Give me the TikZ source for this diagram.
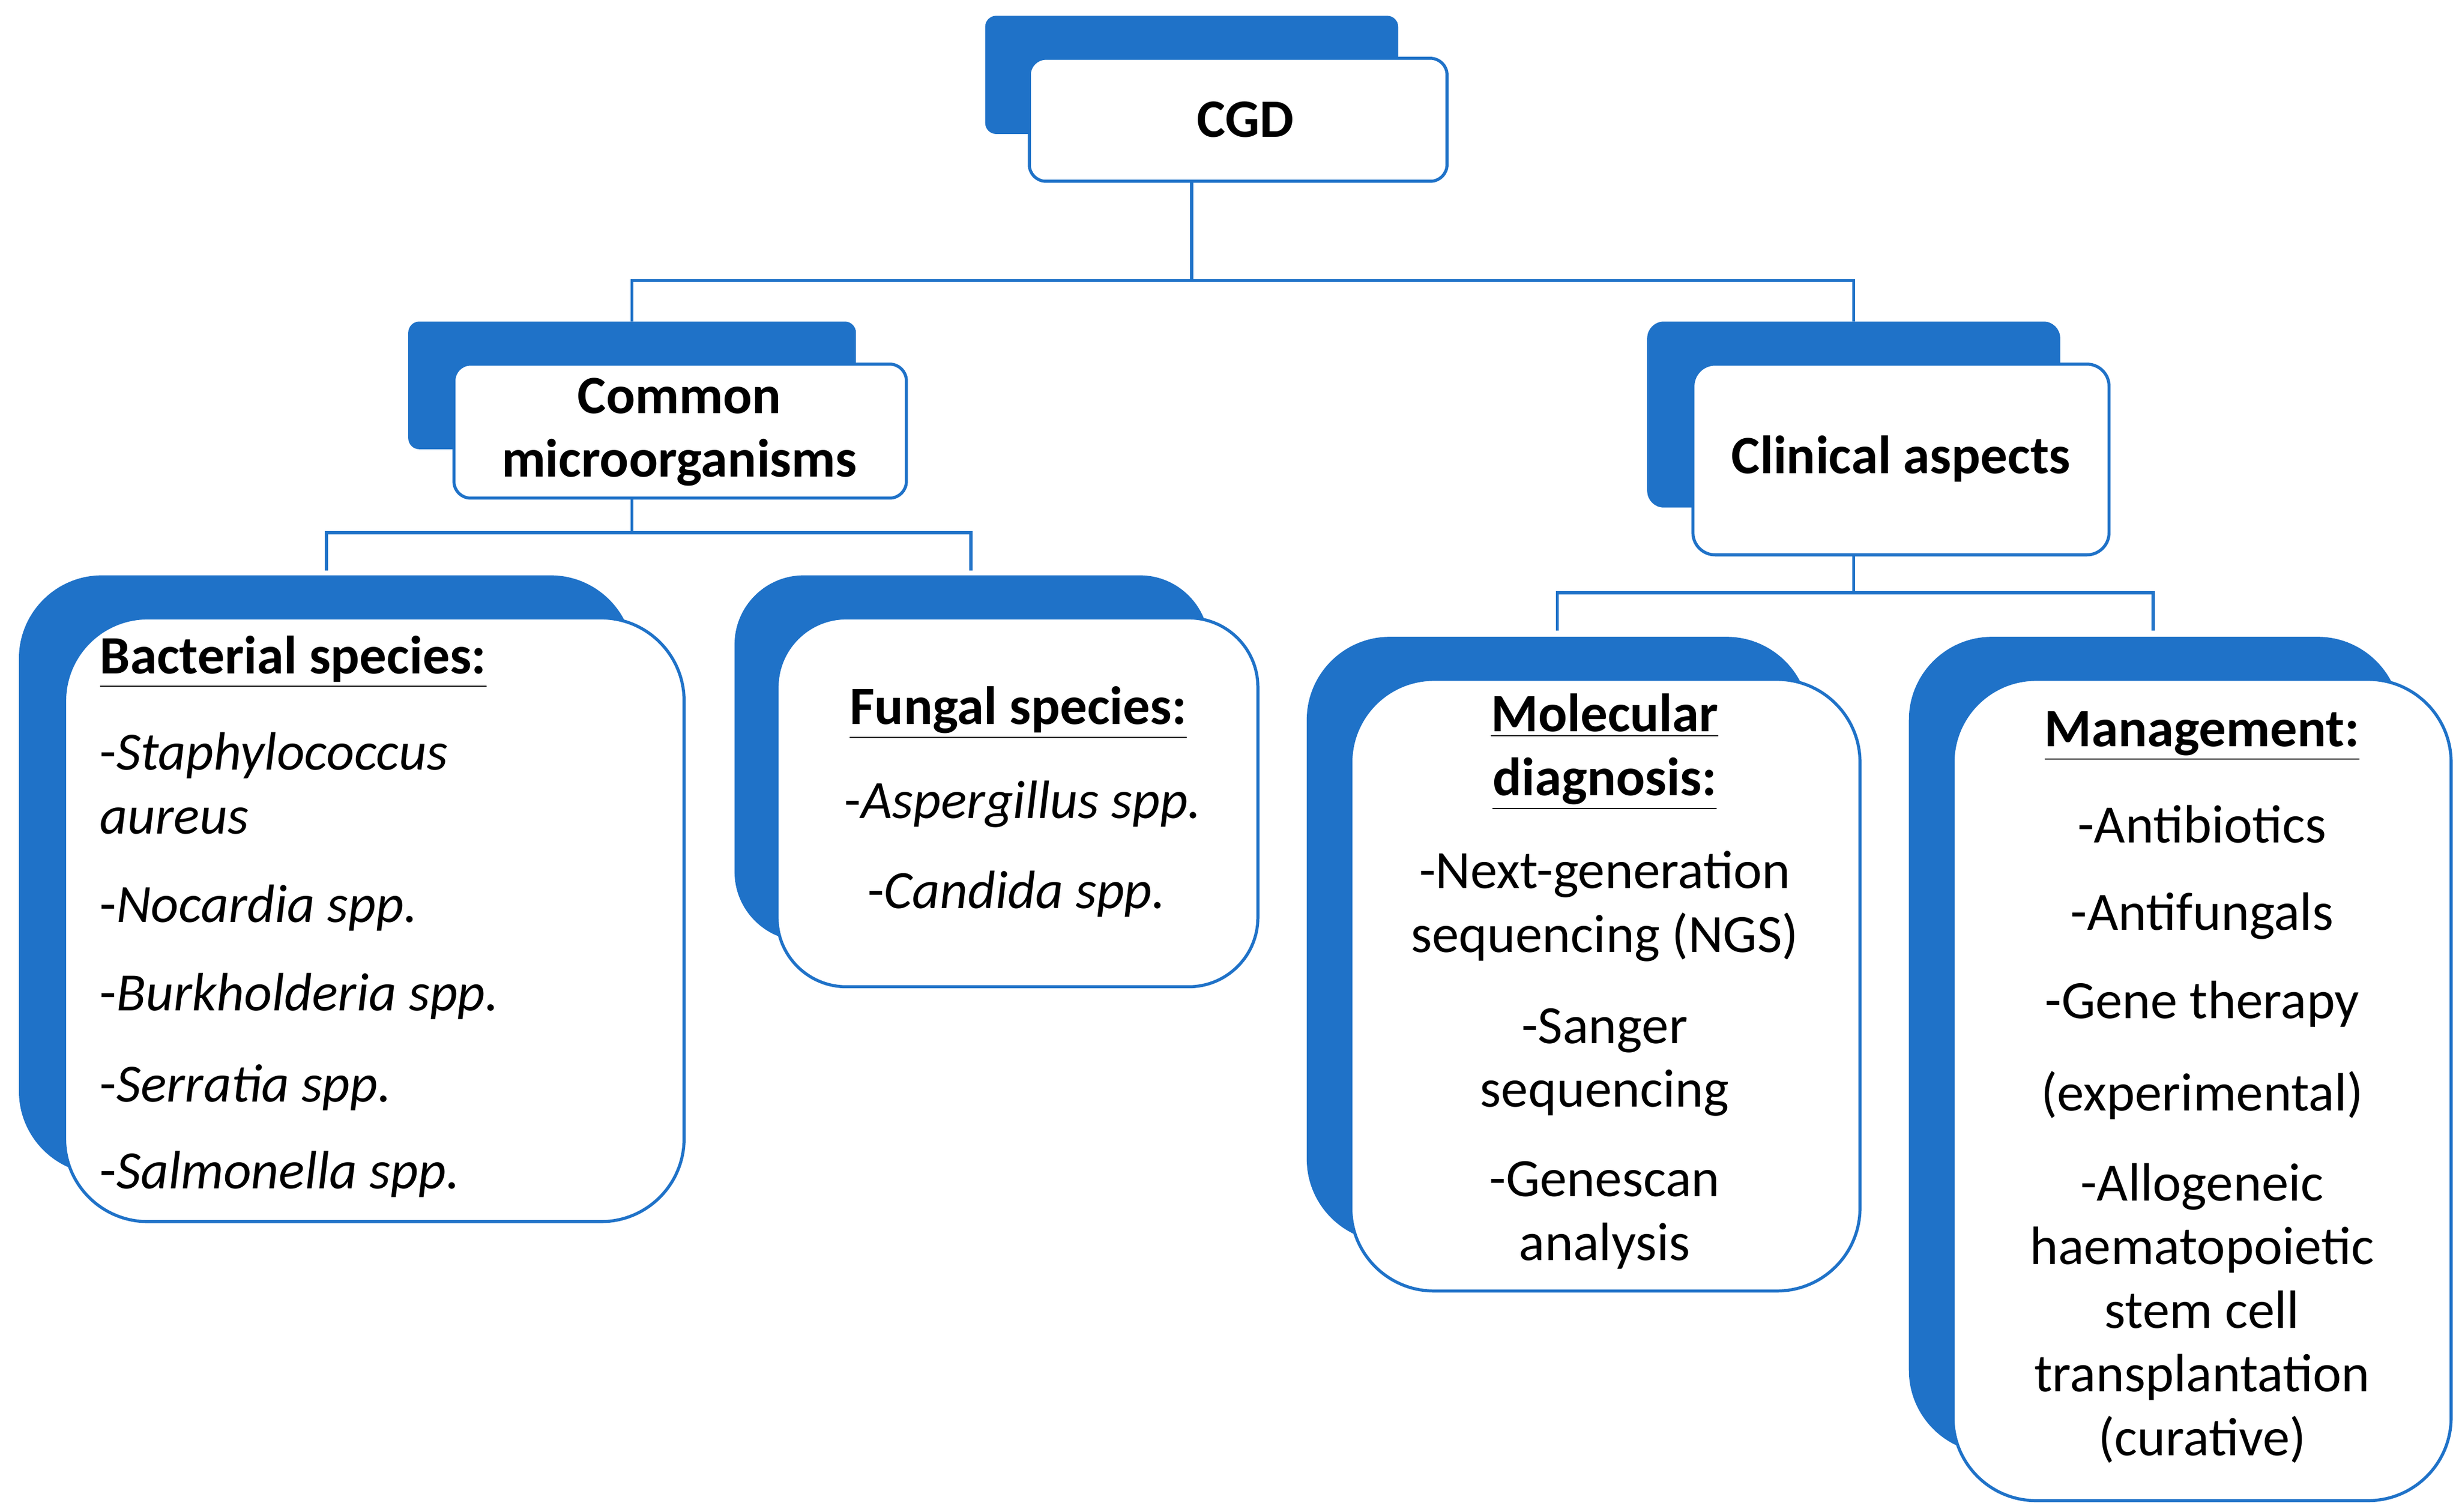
\documentclass[tikz,border=0pt]{standalone}
\usepackage{fontspec}
\setmainfont{Carlito}
\definecolor{myblue}{HTML}{1F72C8}
\begin{document}
\begin{tikzpicture}[x=0.02cm,y=-0.02cm,
  back/.style={fill=myblue},
  front/.style={fill=white,draw=myblue,line width=1.1pt},
  conn/.style={draw=myblue,line width=1.1pt},
  txt/.style={font=\fontsize{19.5}{23}\selectfont,inner sep=0pt},
  hd/.style={txt,font=\fontsize{19.5}{23}\selectfont\bfseries}]
\useasboundingbox (0,0) rectangle (1560,959);
% connectors
\draw[conn] (756,115) -- (756,178) coordinate (j1);
\draw[conn] (401,204) -- (401,178) -- (1176,178) -- (1176,204);
\draw[conn] (401,316) -- (401,338);
\draw[conn] (207,362) -- (207,338) -- (616,338) -- (616,362);
\draw[conn] (1176,352) -- (1176,376);
\draw[conn] (988,400) -- (988,376) -- (1366,376) -- (1366,400);
% CGD
\fill[back,rounded corners=4] (625,10) rectangle (887,85);
\draw[front,rounded corners=6] (653,37) rectangle (918,115);
\node[hd] (cgd) at (790,76) {CGD};
% Common microorganisms
\fill[back,rounded corners=4] (259,204) rectangle (543,285);
\draw[front,rounded corners=6] (288,231) rectangle (575,316);
\node[hd,align=center] (cm) at (431,274) {Common\\microorganisms};
% Clinical aspects
\fill[back,rounded corners=6] (1045,204) rectangle (1307,322);
\draw[front,rounded corners=8] (1074,231) rectangle (1338,352);
\node[hd] (ca) at (1206,291) {Clinical aspects};
% Bacterial
\fill[back,rounded corners=30] (12,365) rectangle (402,745);
\draw[front,rounded corners=30] (41,392) rectangle (434,775);
\node[hd,anchor=west] (b0) at (63,420) {\underline{Bacterial species:}};
\node[txt,anchor=west,align=left] (b1) at (63,497) {-\textit{Staphylococcus}\\\textit{aureus}};
\node[txt,anchor=west] (b2) at (63,576) {-\textit{Nocardia spp.}};
\node[txt,anchor=west] (b3) at (63,632) {-\textit{Burkholderia spp.}};
\node[txt,anchor=west] (b4) at (63,690) {-\textit{Serratia spp.}};
\node[txt,anchor=west] (b5) at (63,745) {-\textit{Salmonella spp.}};
% Fungal
\fill[back,rounded corners=25] (466,365) rectangle (767,597);
\draw[front,rounded corners=25] (493,392) rectangle (798,626);
\node[hd] (f0) at (646,452) {\underline{Fungal species:}};
\node[txt] (f1) at (649,510) {-\textit{Aspergillus spp.}};
\node[txt] (f2) at (645,567) {-\textit{Candida spp.}};
% Molecular
\fill[back,rounded corners=30] (829,404) rectangle (1148,788);
\draw[front,rounded corners=30] (857,431) rectangle (1180,819);
\node[hd,align=center] (m0) at (1018,477) {\underline{Molecular}\\\underline{diagnosis:}};
\node[txt,align=center] (m1) at (1018,575) {-Next-generation\\sequencing (NGS)};
\node[txt,align=center] (m2) at (1018,674) {-Sanger\\sequencing};
\node[txt,align=center] (m3) at (1018,771) {-Genescan\\analysis};
% Management
\fill[back,rounded corners=30] (1211,404) rectangle (1523,922);
\draw[front,rounded corners=30] (1239,431) rectangle (1555,952);
\node[hd] (g0) at (1397,467) {\underline{Management:}};
\node[txt] (g1) at (1397,523) {-Antibiotics};
\node[txt] (g2) at (1397,581) {-Antifungals};
\node[txt] (g3) at (1397,637) {-Gene therapy};
\node[txt] (g4) at (1397,695) {(experimental)};
\node[txt,align=center] (g5) at (1397,833) {-Allogeneic\\haematopoietic\\stem cell\\transplantation\\(curative)};
\end{tikzpicture}
\end{document}
